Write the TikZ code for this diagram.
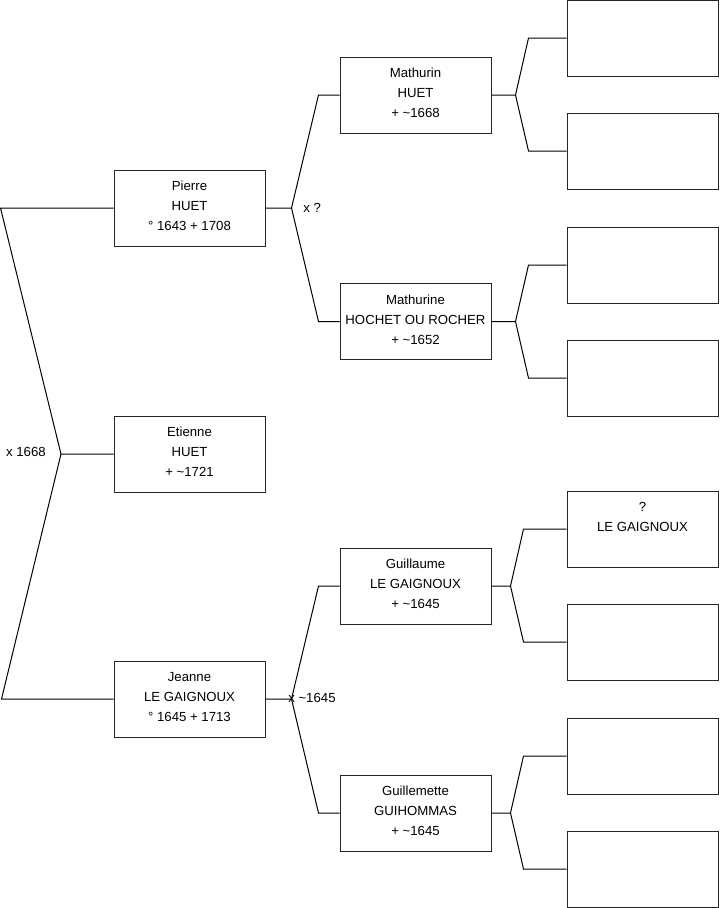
\documentclass[tikz,border=0pt]{standalone}
\usepackage{fontspec}
\setmainfont{Liberation Sans}
\usetikzlibrary{calc}
\tikzset{
  person/.style={
    draw=black!85,
    line width=0.75pt,
    minimum width=113.25pt,
    minimum height=57pt,
    inner sep=0pt,
    fill=white
  },
  ptext/.style={font=\fontsize{9.9}{15}\selectfont, align=center, inner sep=0pt, anchor=north},
  mlbl/.style={font=\fontsize{9.9}{11}\selectfont, inner sep=0pt},
  link/.style={draw=black, line width=0.75pt},
}
\newcommand{\PersonBox}[3]{%
  \node[person] (#1) at (#2) {};
  \node[ptext] (#1txt) at ([yshift=-8.6pt]#1.north) {#3};
}

\begin{document}
\begin{tikzpicture}[x=0.75pt, y=-0.75pt]
  \useasboundingbox (0,0) rectangle (719,908);
  % generation 1
  \PersonBox{Pierre}{189.5,208}{Pierre\\HUET\\° 1643 + 1708}
  \PersonBox{Etienne}{189.5,454}{Etienne\\HUET\\+ \textasciitilde 1721}
  \PersonBox{Jeanne}{189.5,699}{Jeanne\\LE GAIGNOUX\\° 1645 + 1713}
  % generation 2
  \PersonBox{Mathurin}{415.5,95}{Mathurin\\HUET\\+ \textasciitilde 1668}
  \PersonBox{Mathurine}{415.5,321.5}{Mathurine\\HOCHET OU ROCHER\\+ \textasciitilde 1652}
  \PersonBox{Guillaume}{415.5,586}{Guillaume\\LE GAIGNOUX\\+ \textasciitilde 1645}
  \PersonBox{Guillemette}{415.5,813}{Guillemette\\GUIHOMMAS\\+ \textasciitilde 1645}
  % generation 3
  \foreach \y [count=\i] in {38,151,265,378,529,642,756,869} {
    \node[person] (A\i) at (642.5,\y) {};
  }
  \node[ptext] (A5txt) at ([yshift=-8.6pt]A5.north) {?\\LE GAIGNOUX};

  % couple of the siblings
  \coordinate (jE) at (61,454);
  \draw[link] (Pierre.west) -- ($(Pierre.west)+(-113,0)$) -- (jE) -- (Etienne.west);
  \draw[link] (jE) -- ($(Jeanne.west)+(-112,0)$) -- (Jeanne.west);
  \node[mlbl, anchor=east] (m1) at (46,452) {x 1668};

  % parents
  \foreach \c/\f/\m in {Pierre/Mathurin/Mathurine, Jeanne/Guillaume/Guillemette} {
    \coordinate (j\c) at ($(\c.east)+(26,0)$);
    \draw[link] (\c.east) -- (j\c) -- ($(\f.west)+(-21,0)$) -- (\f.west);
    \draw[link] (j\c) -- ($(\m.west)+(-21,0)$) -- (\m.west);
  }
  \node[mlbl, anchor=west] (m2) at (303,208) {x ?};
  \node[mlbl, anchor=west] (m3) at (288,698) {x \textasciitilde 1645};

  % grandparents
  \foreach \p/\a/\b/\j/\k in {Mathurin/A1/A2/24/38, Mathurine/A3/A4/24/38,
                              Guillaume/A5/A6/19/43, Guillemette/A7/A8/19/43} {
    \coordinate (j\p) at ($(\p.east)+(\j,0)$);
    \draw[link] (\p.east) -- (j\p) -- ($(\a.west)+(-\k,0)$) -- (\a.west);
    \draw[link] (j\p) -- ($(\b.west)+(-\k,0)$) -- (\b.west);
  }
\end{tikzpicture}
\end{document}
